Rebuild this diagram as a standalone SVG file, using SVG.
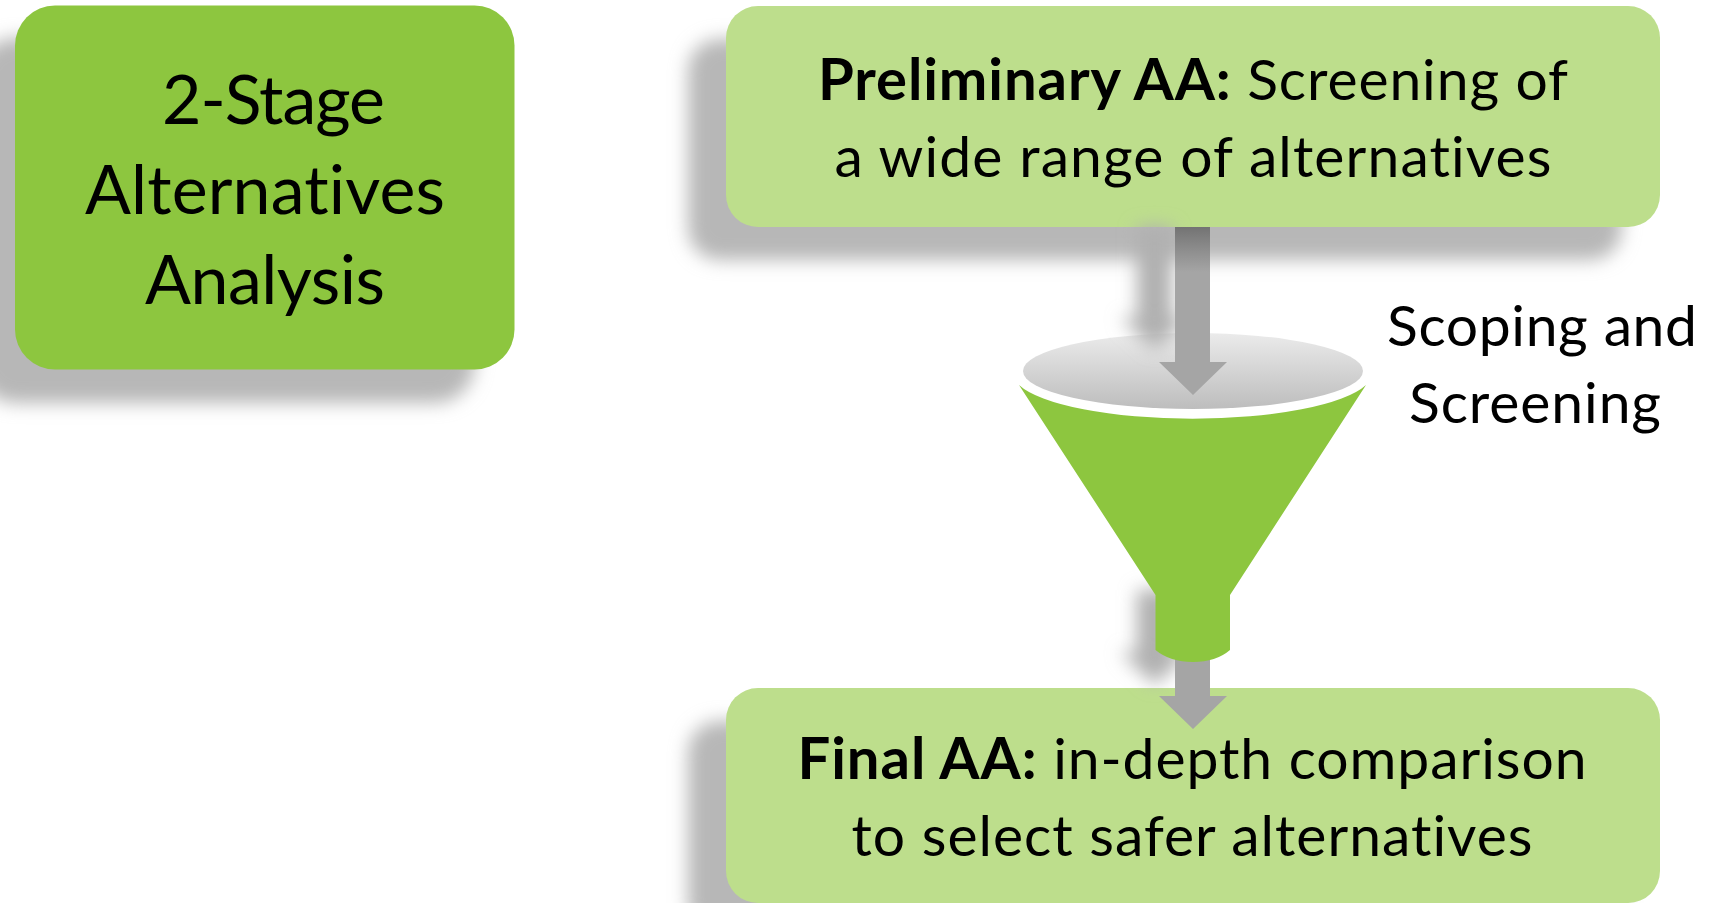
<svg xmlns="http://www.w3.org/2000/svg" width="1709" height="903" viewBox="0 0 1709 903">
<style>
text{font-family:Lato,"Liberation Sans",sans-serif;font-size:68px;fill:#000;text-anchor:middle;font-variant-ligatures:none}
.b{font-weight:700;font-size:58px}
.sm{font-size:57px}
.shadow{fill:#b7b7b7;filter:url(#blur)}
.ashadow{fill:#b0b0b0;filter:url(#blur)}
.dark{fill:#8DC63F}
.light{fill:#BDDE8C}
</style>
<defs>
<filter id="blur" x="-30%" y="-30%" width="160%" height="160%"><feGaussianBlur stdDeviation="9"/></filter>
<linearGradient id="rim" x1="0" y1="0" x2="0" y2="1"><stop offset="0" stop-color="#ebebeb"/><stop offset="1" stop-color="#bdbdbd"/></linearGradient>
<linearGradient id="shaft" gradientUnits="userSpaceOnUse" x1="0" y1="227" x2="0" y2="272"><stop offset="0" stop-color="#737373"/><stop offset="0.55" stop-color="#8f8f8f"/><stop offset="1" stop-color="#a5a5a5"/></linearGradient>
</defs>
<rect width="1709" height="903" fill="#fff"/>
<g id="node-stage">
<rect class="shadow" x="-24" y="38" width="499" height="365" rx="40"/>
<rect class="dark" x="15" y="5.500" width="499.500" height="364" rx="40"/>
<text x="273.500" y="124" textLength="223" lengthAdjust="spacing">2-Stage</text>
<text x="265" y="214" textLength="360" lengthAdjust="spacing">Alternatives</text>
<text x="265" y="304" textLength="240" lengthAdjust="spacing">Analysis</text>
</g>
<g id="node-preliminary">
<rect class="shadow" x="688" y="39" width="934" height="221" rx="32"/>
<rect class="light" x="726" y="6" width="934" height="221" rx="32"/>
<text class="sm" x="1193" y="100" textLength="750" lengthAdjust="spacing"><tspan class="b">Preliminary AA:</tspan> Screening of</text>
<text class="sm" x="1193" y="177" textLength="717" lengthAdjust="spacing">a wide range of alternatives</text>
</g>
<g id="node-final">
<rect class="shadow" x="688" y="721" width="934" height="215" rx="32"/>
<rect class="light" x="726" y="688" width="934" height="215" rx="32"/>
<text class="sm" x="1192" y="779" textLength="789" lengthAdjust="spacing"><tspan class="b">Final AA:</tspan> in-depth comparison</text>
<text class="sm" x="1192" y="856" textLength="681" lengthAdjust="spacing">to select safer alternatives</text>
</g>
<g id="node-funnel-rim">
<ellipse cx="1193" cy="371" rx="170" ry="38" fill="url(#rim)"/>
</g>
<g id="connectors">
<polygon class="ashadow" points="1137,227 1172,227 1172,318 1189,318 1155,350 1120,318 1137,318"/>
<polygon points="1175,227 1210,227 1210,362 1227,362 1193,395 1159,362 1175,362" fill="url(#shaft)"/>
<polygon class="ashadow" points="1137,590 1172,590 1172,652 1189,652 1155,685 1120,652 1137,652"/>
<polygon points="1175,630 1210,630 1210,696 1227,696 1193,729 1159,696 1175,696" fill="#a5a5a5"/>
</g>
<g id="node-funnel">
<path class="dark" d="M1019 385A180 46 0 0 0 1366 385L1230 595V650Q1216 662 1193 662Q1170 662 1155.500 650V595Z"/>
</g>
<g id="node-scoping">
<text class="sm" x="1542" y="346" textLength="310" lengthAdjust="spacing">Scoping and</text>
<text class="sm" x="1535" y="423" textLength="252" lengthAdjust="spacing">Screening</text>
</g>
</svg>
